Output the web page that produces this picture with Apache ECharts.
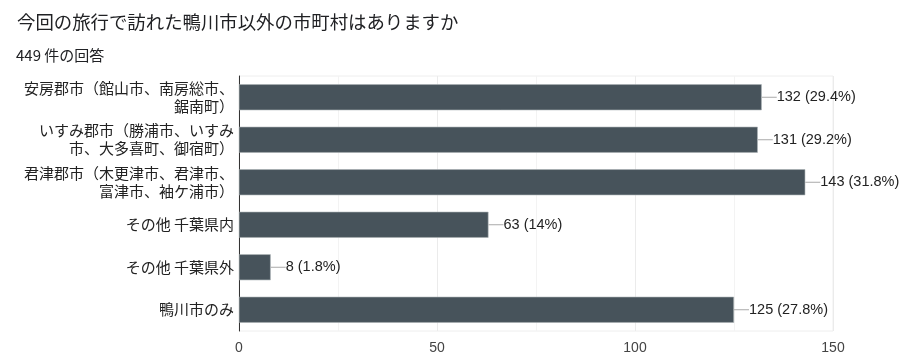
<!DOCTYPE html>
<html><head><meta charset="utf-8">
<script src="https://cdn.jsdelivr.net/npm/echarts@6/dist/echarts.min.js"></script>
<style>html,body{margin:0;padding:0;background:#fff}#c{width:910px;height:362px}</style>
</head><body><div id="c"></div>
<script>
const categories = [
  "安房郡市（館山市、南房総市、\n鋸南町）",
  "いすみ郡市（勝浦市、いすみ\n市、大多喜町、御宿町）",
  "君津郡市（木更津市、君津市、\n富津市、袖ケ浦市）",
  "その他 千葉県内",
  "その他 千葉県外",
  "鴨川市のみ"
];
const values = [132, 131, 143, 63, 8, 125];
const percents = ["29.4%", "29.2%", "31.8%", "14%", "1.8%", "27.8%"];
const titleText = "今回の旅行で訪れた鴨川市以外の市町村はありますか";
const subtitleText = "449 件の回答";

const LATIN = 'Arial, "Liberation Sans", "Noto Sans CJK JP", sans-serif';
const CJK = '"Noto Sans CJK JP", sans-serif';
const chart = echarts.init(document.getElementById('c'), null, {renderer: 'canvas'});
chart.setOption({
  animation: false,
  textStyle: {fontFamily: LATIN},
  title: [
    {text: titleText, left: 12, top: 8, textStyle: {fontSize: 18.4, fontWeight: 'normal', color: '#202124', fontFamily: CJK}},
    {text: subtitleText, left: 11, top: 43, textStyle: {fontSize: 15, fontWeight: 'normal', color: '#202124', fontFamily: CJK}}
  ],
  grid: {left: 239, right: 77, top: 76, height: 255, containLabel: false, show: true, borderColor: '#eeeeee', borderWidth: 1, backgroundColor: 'transparent'},
  xAxis: {
    type: 'value', min: 0, max: 150, interval: 50,
    axisLine: {show: false}, axisTick: {show: false},
    axisLabel: {color: '#444', fontSize: 14, margin: 10, fontFamily: LATIN},
    splitLine: {show: true, lineStyle: {color: '#ebebeb', width: 1}},
    minorTick: {show: false, splitNumber: 2},
    minorSplitLine: {show: true, lineStyle: {color: '#f3f3f3', width: 1}}
  },
  yAxis: {
    type: 'category', data: categories, inverse: true,
    axisLine: {show: true, lineStyle: {color: '#333', width: 1}},
    axisTick: {show: false},
    axisLabel: {color: '#222', fontSize: 15, margin: 5, lineHeight: 18, align: 'right', fontFamily: CJK}
  },
  series: [{
    type: 'bar', data: values, barWidth: 26,
    itemStyle: {color: '#47535b', borderColor: '#a9b0b4', borderWidth: 0.6},
    label: {
      show: true, position: 'right', distance: 0,
      formatter: p => '{l|}{t|' + p.value + ' (' + percents[p.dataIndex] + ')}',
      rich: {
        l: {width: 15, height: 1, backgroundColor: '#a8a8a8'},
        t: {fontSize: 14.5, color: '#222', fontFamily: LATIN}
      }
    }
  }]
});
</script></body></html>
